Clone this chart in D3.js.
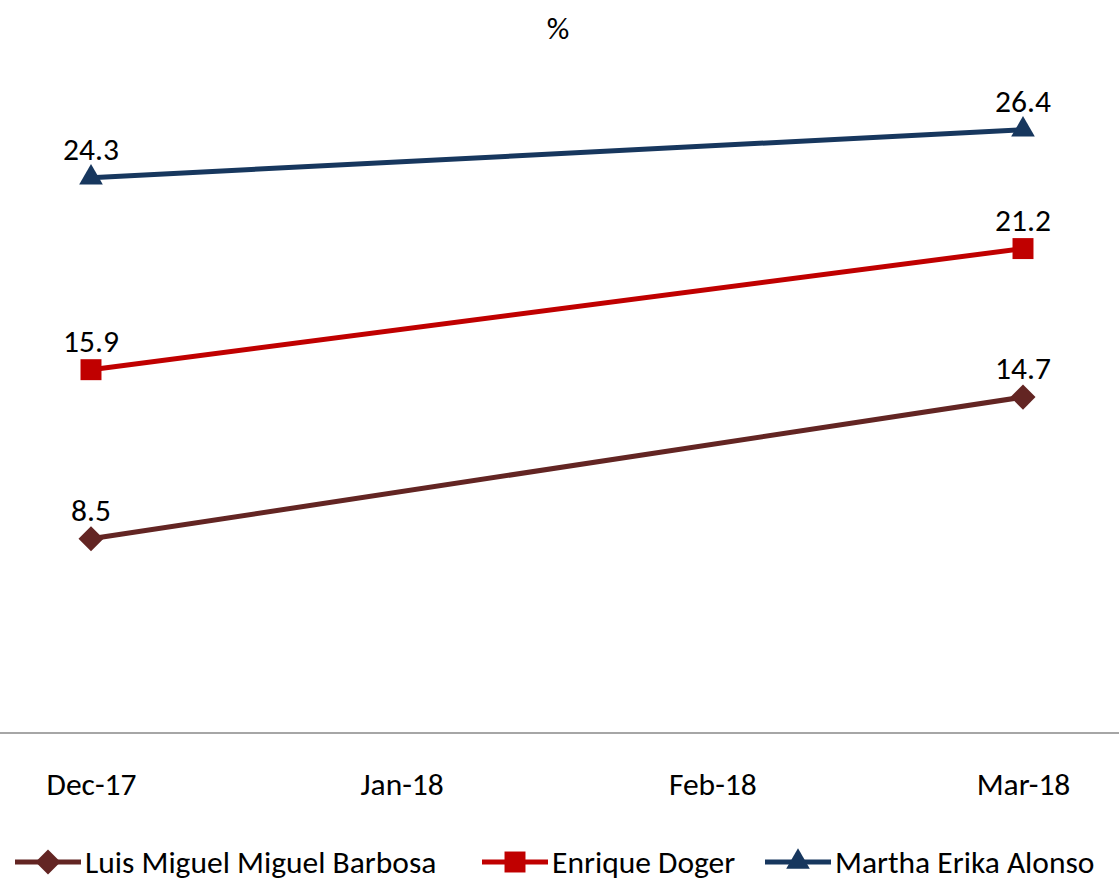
<!DOCTYPE html>
<meta charset="utf-8">
<head>
    <script src="https://d3js.org/d3.v7.min.js"></script>
    <style>
        body { margin: 0; background: white; }
        text { font-family: Carlito, Calibri, "Liberation Sans Narrow", "Liberation Sans", sans-serif; fill: #000; }
    </style>
</head>
<body>
    <div id="chart"></div>
    <script>
        // data
        var months = ["Dec-17", "Jan-18", "Feb-18", "Mar-18"];
        var seriesNames = ["Luis Miguel Miguel Barbosa", "Enrique Doger", "Martha Erika Alonso"];
        var barbosa = [8.5, null, null, 14.7];
        var doger = [15.9, null, null, 21.2];
        var alonso = [24.3, null, null, 26.4];
        var colors = ["#632523", "#c00000", "#17375e"];
        var symbols = [d3.symbolDiamond2, d3.symbolSquare2, d3.symbolTriangle2];
        var yDomain = [0, 30];

        var width = 1119, height = 883;
        var fontSize = "31.5px";

        var svg = d3.select("#chart").append("svg")
            .attr("width", width)
            .attr("height", height);

        var x = d3.scalePoint()
            .domain(months)
            .range([91, 1023]);

        var y = d3.scaleLinear()
            .domain(yDomain)
            .range([733, 47.5]);

        function symbolSize(s) {
            return s === d3.symbolSquare2 ? 560 : 400;
        }

        // title
        svg.append("text")
            .attr("x", 558)
            .attr("y", 39)
            .attr("text-anchor", "middle")
            .style("font-size", fontSize)
            .text("%");

        // baseline
        svg.append("line")
            .attr("x1", 0)
            .attr("x2", width)
            .attr("y1", y(0))
            .attr("y2", y(0))
            .attr("stroke", "#a6a6a6")
            .attr("stroke-width", 2);

        var xAxis = svg.append("g")
            .attr("transform", "translate(0," + y(0) + ")")
            .call(d3.axisBottom(x).tickSize(0).tickPadding(40));
        xAxis.select(".domain").remove();
        xAxis.selectAll("text")
            .style("font-size", fontSize)
            .style("font-family", null);

        var series = [barbosa, doger, alonso].map(function(vals, i) {
            return {
                name: seriesNames[i],
                color: colors[i],
                symbol: symbols[i],
                points: months.map(function(m, j) { return { month: m, value: vals[j] }; })
                    .filter(function(p) { return p.value != null; })
            };
        });

        var line = d3.line()
            .x(function(d) { return x(d.month); })
            .y(function(d) { return y(d.value); });

        series.forEach(function(s) {
            svg.append("path")
                .datum(s.points)
                .attr("d", line)
                .attr("fill", "none")
                .attr("stroke", s.color)
                .attr("stroke-width", 5);

            svg.selectAll(null)
                .data(s.points)
                .enter()
                .append("path")
                .attr("transform", function(d) { return "translate(" + x(d.month) + "," + y(d.value) + ")"; })
                .attr("d", d3.symbol().type(s.symbol).size(symbolSize(s.symbol)))
                .attr("fill", s.color);

            svg.selectAll(null)
                .data(s.points)
                .enter()
                .append("text")
                .attr("x", function(d) { return x(d.month); })
                .attr("y", function(d) { return y(d.value) - 18; })
                .attr("text-anchor", "middle")
                .style("font-size", fontSize)
                .text(function(d) { return d3.format(".1f")(d.value); });
        });

        // legend
        var legendX = [15, 482, 765];
        var legend = svg.selectAll(".legend")
            .data(series)
            .enter()
            .append("g")
            .attr("class", "legend")
            .attr("transform", function(d, i) { return "translate(" + legendX[i] + ",862)"; });

        legend.append("line")
            .attr("x1", 0)
            .attr("x2", 66)
            .attr("stroke", function(d) { return d.color; })
            .attr("stroke-width", 5);

        legend.append("path")
            .attr("transform", "translate(33,0)")
            .attr("d", function(d) { return d3.symbol().type(d.symbol).size(symbolSize(d.symbol))(); })
            .attr("fill", function(d) { return d.color; });

        legend.append("text")
            .attr("x", 70)
            .attr("dy", "0.35em")
            .style("font-size", fontSize)
            .text(function(d) { return d.name; });
    </script>
</body>
</html>
